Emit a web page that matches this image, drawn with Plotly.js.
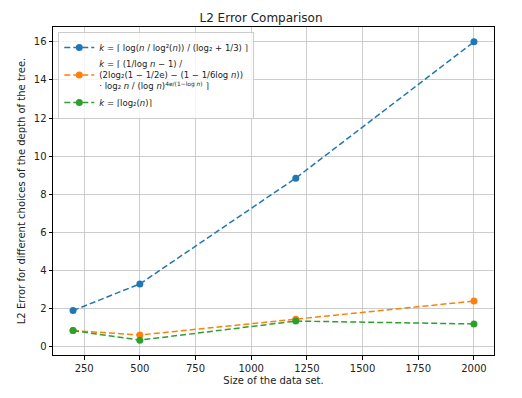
<!DOCTYPE html>
<html>
<head>
<meta charset="utf-8">
<script src="https://cdn.plot.ly/plotly-3.0.1.min.js"></script>
<style>
  html, body { margin: 0; padding: 0; background: #fff; }
  #chart { width: 522px; height: 398px; }
</style>
</head>
<body>
<div id="chart"></div>
<script>
// data set sizes
var sizes = [200, 500, 1200, 2000];

// L2 error for each depth rule
var errA = [1.9, 3.3, 8.85, 16.0];
var errB = [0.85, 0.62, 1.45, 2.4];
var errC = [0.85, 0.35, 1.35, 1.2];

var names = [
  "<i>k</i> = ⌈ log(<i>n</i> / log²(<i>n</i>)) / (log₂ + 1/3) ⌉",
  "<i>k</i> = ⌈ (1/log <i>n</i> − 1) /<br>(2log₂(1 − 1/2e) − (1 − 1/6log <i>n</i>))<br>· log₂ <i>n</i> / (log <i>n</i>)<sup>4e/(1−log <i>n</i>)</sup> ⌉",
  "<i>k</i> = ⌈log₂(<i>n</i>)⌉"
];
var colors = ["#1f77b4", "#ff7f0e", "#2ca02c"];
var series = [errA, errB, errC];

var data = series.map(function(ys, i) {
  return {
    x: sizes,
    y: ys,
    name: names[i],
    type: "scatter",
    mode: "lines+markers",
    line: { color: colors[i], dash: "6px,3px", width: 1.5 },
    marker: { color: colors[i], size: 7 }
  };
});

var axisStyle = {
  showline: true,
  linecolor: "#000",
  linewidth: 1,
  mirror: true,
  ticks: "outside",
  ticklen: 3.5,
  tickcolor: "#000",
  showgrid: true,
  gridcolor: "#c0c0c0",
  gridwidth: 0.8,
  zeroline: false,
  tickfont: { size: 10, color: "#222" }
};

var layout = {
  width: 522,
  height: 398,
  margin: { l: 53, r: 28, t: 27, b: 43 },
  paper_bgcolor: "#fff",
  plot_bgcolor: "#fff",
  font: { family: "DejaVu Sans", color: "#222" },
  title: { text: "L2 Error Comparison", font: { size: 12 }, x: 0.5, xanchor: "center", y: 0.965 },
  xaxis: Object.assign({}, axisStyle, {
    range: [110, 2090],
    tickvals: [250, 500, 750, 1000, 1250, 1500, 1750, 2000],
    title: { text: "Size of the data set.", font: { size: 10 }, standoff: 4 }
  }),
  yaxis: Object.assign({}, axisStyle, {
    range: [-0.43, 16.78],
    tickvals: [0, 2, 4, 6, 8, 10, 12, 14, 16],
    title: { text: "L2 Error for different choices of the depth of the tree.", font: { size: 10 }, standoff: 6 }
  }),
  legend: {
    x: 0.012, y: 0.985, xanchor: "left", yanchor: "top",
    bgcolor: "rgba(255,255,255,0.8)",
    bordercolor: "#ccc",
    borderwidth: 1,
    font: { size: 8.5 },
    tracegroupgap: 4
  },
  showlegend: true
};

Plotly.newPlot("chart", data, layout, { displayModeBar: false, staticPlot: true });
</script>
</body>
</html>
